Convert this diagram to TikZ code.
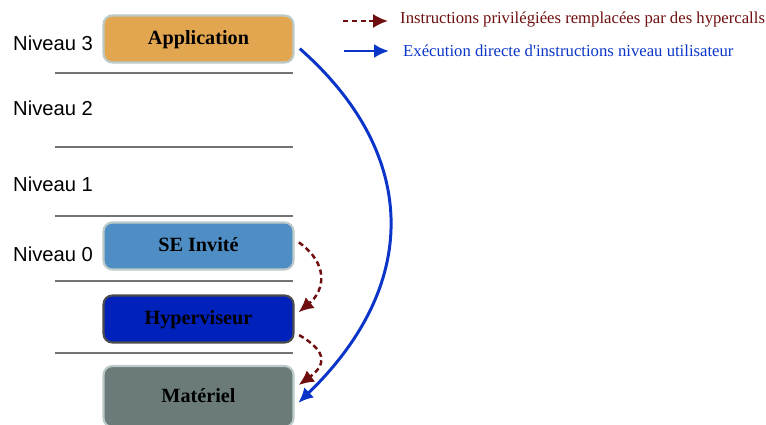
\documentclass[tikz,border=0pt]{standalone}
\usepackage{fontspec}
\setmainfont{Liberation Serif}
\setsansfont{Liberation Sans}
\usetikzlibrary{arrows.meta,positioning}

\definecolor{appli}{HTML}{E2A651}
\definecolor{invite}{HTML}{4F8EC4}
\definecolor{hyper}{HTML}{0022BB}
\definecolor{materiel}{HTML}{6A7B7A}
\definecolor{rouge}{HTML}{6E0E0E}
\definecolor{bleu}{HTML}{0A35C8}
\definecolor{bord}{HTML}{BCCACA}

\tikzset{
couche/.style={rectangle, rounded corners=5pt, draw=bord, line width=1.2pt,
minimum width=3.8cm, minimum height=0.94cm, text height=0.68em, text depth=0pt,
font=\bfseries\fontsize{11.5}{12}\selectfont},
niveau/.style={anchor=west, font=\sffamily\fontsize{11.5}{12}\selectfont},
separateur/.style={draw=gray!90!black, line width=0.7pt},
hypercall/.style={rouge, line width=1.4pt, dash pattern=on 3pt off 2pt,
-{Latex[length=8.5pt,width=8pt]}},
directe/.style={bleu, line width=1.7pt, -{Latex[length=8.5pt,width=8pt]}},
legende/.style={anchor=west, font=\fontsize{9.5}{11}\selectfont}
}

\begin{document}
\begin{tikzpicture}[x=0.02cm,y=-0.02cm]
\useasboundingbox (0,0) rectangle (766,425);
\clip (0,0) rectangle (766,425);
% couches
\node[couche, fill=appli](app) at (198.5,39) {Application};
\node[couche, fill=invite](se) at (198.5,246) {SE Invité};
\node[couche, fill=hyper, draw=gray!60!black](hyp) at (198.5,319) {Hyperviseur};
\node[couche, fill=materiel, minimum height=1.22cm](mat) at (198.5,396.5) {Matériel};
% niveaux
\node[niveau](n3) at (7,43) {Niveau 3};
\node[niveau](n2) at (7,108) {Niveau 2};
\node[niveau](n1) at (7,184) {Niveau 1};
\node[niveau](n0) at (7,254) {Niveau 0};
\foreach \y in {73,147,216,281,353}
  \draw[separateur] (55,\y)--(293,\y);
% fleches
\draw[directe, shorten <=4pt, shorten >=3pt] (app.-3) .. controls (415,150) and (425,280) .. (mat.-6);
\draw[hypercall, shorten <=3pt, shorten >=3pt] (se.4) .. controls +(35,25) and +(30,-25) .. (hyp.2);
\draw[hypercall, shorten <=3pt, shorten >=3pt] (hyp.-8) .. controls +(35,20) and +(30,-22) .. (mat.5);
% legende
\coordinate (lr1) at (343,21);\coordinate (lr2) at (388,21);
\coordinate (lb1) at (344,51);\coordinate (lb2) at (389,51);
\draw[hypercall] (lr1)--(lr2);
\draw[directe] (lb1)--(lb2);
\node[legende, rouge](tr) at (394,20) {Instructions privilégiées remplacées par des hypercalls};
\node[legende, bleu](tb) at (397,51) {Exécution directe d\textquotesingle instructions niveau utilisateur};
\end{tikzpicture}
\end{document}
